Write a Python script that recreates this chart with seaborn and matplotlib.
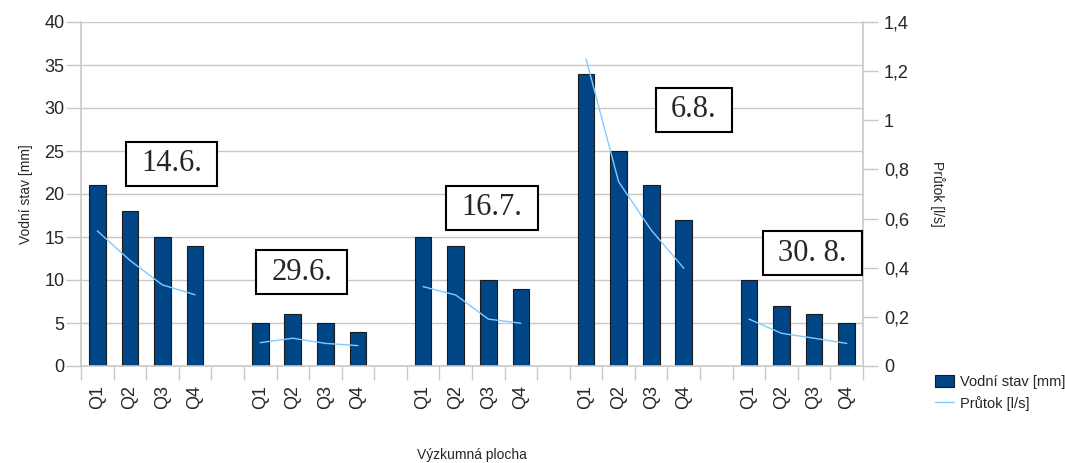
import numpy as np
import pandas as pd
import matplotlib
matplotlib.use('Agg')
import matplotlib.pyplot as plt
import seaborn as sns
from matplotlib.patches import Patch
from matplotlib.lines import Line2D

# ── Data ─────────────────────────────────────────────
quarters   = ['Q1', 'Q2', 'Q3', 'Q4']
dates      = ['14.6.', '29.6.', '16.7.', '6.8.', '30. 8.']
water_mm   = [[21, 18, 15, 14],
              [5, 6, 5, 4],
              [15, 14, 10, 9],
              [34, 25, 21, 17],
              [10, 7, 6, 5]]
flow_ls    = [[0.55, 0.43, 0.33, 0.29],
              [0.095, 0.113, 0.092, 0.083],
              [0.323, 0.289, 0.191, 0.174],
              [1.25, 0.75, 0.553, 0.398],
              [0.191, 0.133, 0.113, 0.092]]
# where each date box sits (slot index, mm)
date_anchor = [(2.28, 23.5), (6.27, 10.9), (12.12, 18.4), (18.31, 29.8), (21.94, 13.1)]

BAR_COLOR  = '#004586'
LINE_COLOR = '#83caff'
GRID_COLOR = '#c8c8c8'

# build long table, one empty slot between groups
order, rows = [], []
for g, date in enumerate(dates):
    if g > 0:
        order.append(f'gap{g}')
    for q, quarter in enumerate(quarters):
        slot = f'{g}_{quarter}'
        order.append(slot)
        rows.append({'slot': slot, 'group': g, 'quarter': quarter,
                     'water': water_mm[g][q], 'flow': flow_ls[g][q]})
df = pd.DataFrame(rows)
df['pos'] = df['slot'].map({s: i for i, s in enumerate(order)})

sns.set_theme(style='white')
plt.rcParams['font.family'] = ['Liberation Sans', 'DejaVu Sans']

fig = plt.figure(figsize=(10.65, 4.63), dpi=100)
ax = fig.add_axes([81 / 1065, 97 / 463, 782 / 1065, 344 / 463])

sns.barplot(data=df, x='slot', y='water', order=order, color=BAR_COLOR,
            saturation=1, width=0.51, edgecolor='#1a1a1a', linewidth=0.8, ax=ax)

ax.set_ylim(0, 40)
ax.set_xlim(-0.5, len(order) - 0.5)
ax.set_yticks(np.arange(0, 41, 5))
ax.yaxis.grid(True, color=GRID_COLOR, linewidth=1)
ax.set_axisbelow(True)

# category ticks: boundaries as major ticks, labels on minor ticks
ax.set_xticks(np.arange(-0.5, len(order), 1))
ax.set_xticklabels([])
ax.set_xticks(np.arange(len(order)), minor=True)
ax.set_xticklabels(['' if s.startswith('gap') else s.split('_')[1] for s in order],
                   minor=True, rotation=90, fontsize=13)
ax.tick_params(axis='x', which='major', length=10, width=1, color=GRID_COLOR, bottom=True)
ax.tick_params(axis='x', which='minor', length=0, pad=14)
ax.tick_params(axis='y', length=11, width=1, color=GRID_COLOR, left=True, labelsize=13, pad=1)

for side in ['left', 'bottom', 'right']:
    ax.spines[side].set_color(GRID_COLOR)
    ax.spines[side].set_linewidth(1.2)
ax.spines['top'].set_visible(False)

ax.set_xlabel('Výzkumná plocha', fontsize=10, labelpad=28)
ax.set_ylabel('Vodní stav [mm]', fontsize=10, labelpad=8)

# flow on right axis
ax2 = ax.twinx()
sns.lineplot(data=df, x='pos', y='flow', units='group', estimator=None,
             color=LINE_COLOR, linewidth=1, ax=ax2, legend=False)
ax2.set_ylim(0, 1.4)
ax2.set_xlim(-0.5, len(order) - 0.5)
ax2.set_yticks(np.arange(0, 1.41, 0.2))
ax2.set_yticklabels([f'{v:g}'.replace('.', ',') for v in np.round(np.arange(0, 1.41, 0.2), 1)])
ax2.tick_params(axis='y', length=11, width=1, color=GRID_COLOR, right=True, labelsize=13, pad=4)
ax2.set_ylabel('Průtok [l/s]', fontsize=10, rotation=-90, labelpad=26)
for side in ['left', 'bottom', 'right', 'top']:
    ax2.spines[side].set_visible(False)

# date boxes
for date, (xs, ys) in zip(dates, date_anchor):
    ax.text(xs, ys, date, family=['Liberation Serif', 'DejaVu Serif'], fontsize=22,
            ha='center', va='center', zorder=5,
            bbox=dict(boxstyle='square,pad=0.5', mutation_aspect=0.5,
                      facecolor='white', edgecolor='black', linewidth=1.5))

handles = [Patch(facecolor=BAR_COLOR, edgecolor='#1a1a1a', linewidth=0.8),
           Line2D([], [], color=LINE_COLOR, linewidth=1)]
fig.legend(handles, ['Vodní stav [mm]', 'Průtok [l/s]'], loc='upper left',
           bbox_to_anchor=(922 / 1065, 1 - 362 / 463), frameon=False, fontsize=10.5,
           handlelength=1.3, handleheight=0.9, handletextpad=0.4, labelspacing=0.45)

fig.savefig('out.png', dpi=100)
